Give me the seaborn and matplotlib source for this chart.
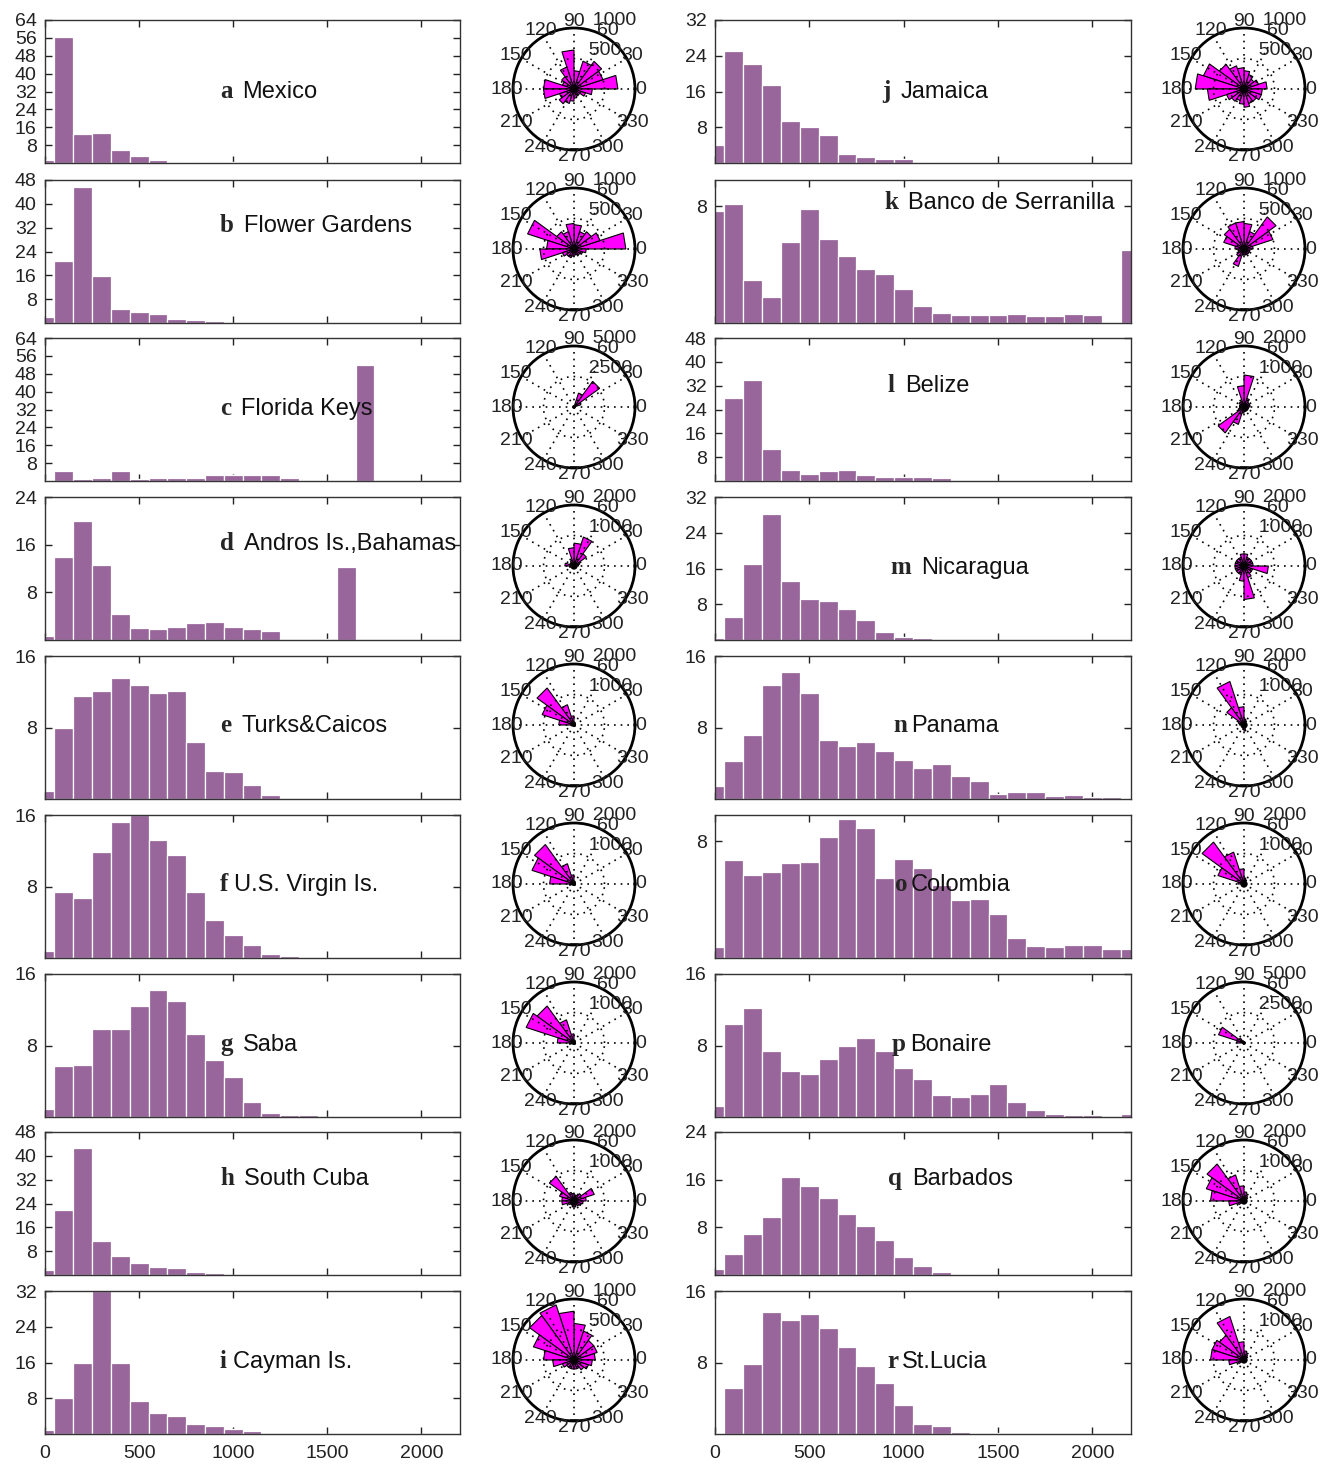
import numpy as np
import pandas as pd
import matplotlib
matplotlib.use("Agg")
import matplotlib.pyplot as plt
import seaborn as sns

sns.set_style("ticks")
plt.rcParams['font.family'] = ['Liberation Sans', 'DejaVu Sans']

# histogram bins (centres 0..2200, width 100)
centers = np.arange(0, 2300, 100)
edges = list(np.arange(-50, 2300, 100))
NB = len(centers)


def pad(v):
    return list(v) + [0] * (NB - len(v))


# ---- histogram counts ----
mexico = pad([1.2, 56.2, 12.8, 13.6, 5.9, 3.0, 1.2, 0.6, 0.6, 0, 0.6])
flower = pad([1.9, 20.7, 45.5, 15.7, 4.7, 3.7, 2.9, 1.5, 1.1, 0.55])
florida = pad([0.4, 4.5, 0.8, 1.4, 4.5, 0.8, 1.4, 1.4, 1.4, 2.7, 2.7, 2.7, 2.7, 1.4, 0, 0, 0, 52, 0.3])
andros = pad([0.65, 13.9, 20.0, 12.6, 4.4, 2.0, 1.8, 2.25, 2.9, 3.1, 2.25, 1.8, 1.55, 0, 0, 0.25, 12.2])
turks = pad([0.9, 7.9, 11.5, 12.1, 13.5, 12.7, 11.9, 12.1, 6.4, 3.1, 3.0, 1.6, 0.4, 0.1])
usvi = pad([0.76, 7.4, 6.7, 11.9, 15.2, 16.0, 13.2, 11.5, 7.4, 4.2, 2.55, 1.5, 0.5, 0.23])
saba = pad([0.9, 5.7, 5.8, 9.9, 9.9, 12.4, 14.2, 13.0, 9.3, 6.4, 4.5, 1.7, 0.5, 0.23, 0.23])
scuba = pad([1.8, 21.7, 42.7, 11.5, 6.3, 4.1, 2.7, 2.3, 1.0, 0.6])
cayman = pad([0.8, 8.1, 15.9, 32.0, 15.9, 7.4, 4.8, 4.1, 2.3, 1.7, 1.1, 0.7, 0.23, 0, 0.15])
jamaica = pad([4.1, 25.0, 22.2, 17.5, 9.4, 8.0, 6.2, 2.0, 1.4, 0.8, 0.8, 0.25])
banco = pad([7.66, 8.18, 2.97, 1.78, 5.53, 7.82, 5.78, 4.62, 3.73, 3.36, 2.33, 1.17, 0.71, 0.53,
             0.53, 0.53, 0.64, 0.46, 0.46, 0.64, 0.55, 0.09, 4.98])
belize = pad([0.4, 28.0, 33.8, 10.7, 3.7, 2.5, 3.3, 3.7, 1.9, 1.4, 1.4, 1.4, 1.0,
              0, 0, 0, 0, 0, 0, 0, 0, 0, 0.4])
nicaragua = pad([0.4, 5.2, 17.0, 28.1, 13.1, 9.1, 8.8, 7.0, 4.5, 1.8, 0.6, 0.4])
panama = pad([1.4, 4.3, 7.2, 12.8, 14.2, 11.9, 6.55, 5.9, 6.4, 5.4, 4.4, 3.45, 3.9, 2.55,
              2.0, 0.6, 0.75, 0.75, 0.35, 0.5, 0.2, 0.2, 0])
colombia = pad([0.78, 6.7, 5.7, 5.9, 6.5, 6.6, 8.3, 9.5, 8.9, 5.5, 6.8, 6.2, 5.0, 3.95,
                4.05, 3.03, 1.37, 0.85, 0.75, 0.91, 0.91, 0.64, 0.64])
bonaire = pad([1.26, 10.4, 12.2, 7.4, 5.2, 4.8, 6.5, 7.9, 8.8, 7.4, 5.5, 4.2, 2.5, 2.25,
               2.6, 3.65, 1.7, 0.77, 0.35, 0.2, 0.2, 0.07, 0.35])
barbados = pad([1.0, 3.5, 6.8, 9.7, 16.5, 15.0, 13.0, 10.3, 8.2, 5.8, 3.1, 1.45, 0.5, 0.2])
stlucia = pad([0.08, 5.2, 7.85, 13.6, 12.8, 13.4, 11.9, 9.7, 7.6, 5.76, 3.25, 1.12, 0.85, 0.23, 0, 0.12])

# ---- rose petals: 20 sectors of 18 deg, counter-clockwise from east ----
rose_mexico = [720, 500, 560, 480, 300, 640, 380, 250, 200, 500, 500, 250, 300, 250, 200, 150, 100, 120, 200, 300]
rose_flower = [850, 450, 350, 300, 400, 420, 300, 350, 800, 450, 560, 200, 150, 150, 120, 100, 100, 120, 150, 200]
rose_florida = [100, 600, 2600, 1200, 100, 50, 50, 50, 50, 50, 50, 50, 50, 50, 50, 50, 50, 50, 50, 50]
rose_andros = [150, 200, 500, 1000, 750, 600, 200, 150, 150, 300, 150, 100, 100, 100, 100, 100, 100, 100, 100, 100]
rose_turks = [50, 50, 50, 80, 100, 300, 700, 1500, 1100, 500, 100, 50, 50, 50, 50, 50, 50, 50, 50, 50]
rose_usvi = [50, 50, 50, 80, 100, 300, 700, 1600, 1450, 800, 150, 50, 50, 50, 50, 50, 50, 50, 50, 50]
rose_saba = [50, 50, 50, 80, 100, 300, 800, 1500, 1650, 550, 150, 50, 50, 50, 50, 50, 50, 50, 50, 50]
rose_scuba = [400, 700, 300, 200, 200, 250, 300, 1000, 500, 400, 400, 200, 150, 150, 200, 200, 150, 200, 250, 300]
rose_cayman = [350, 400, 400, 500, 600, 800, 950, 900, 700, 500, 350, 200, 150, 150, 150, 150, 150, 200, 250, 300]
rose_jamaica = [380, 250, 200, 250, 300, 350, 400, 500, 700, 800, 600, 300, 250, 200, 250, 300, 250, 250, 300, 300]
rose_banco = [150, 500, 650, 300, 420, 450, 450, 400, 350, 150, 100, 100, 150, 300, 100, 100, 100, 100, 100, 100]
rose_belize = [200, 200, 200, 300, 1050, 700, 200, 200, 150, 150, 150, 200, 1050, 600, 200, 150, 150, 150, 150, 150]
rose_nicaragua = [300, 300, 300, 300, 400, 400, 300, 300, 300, 300, 300, 300, 300, 300, 500, 1100, 400, 300, 300, 800]
rose_panama = [100, 100, 100, 150, 200, 600, 1500, 700, 200, 150, 100, 100, 100, 100, 150, 200, 100, 100, 100, 100]
rose_colombia = [100, 100, 100, 150, 200, 500, 1100, 1700, 900, 200, 100, 100, 100, 100, 100, 100, 100, 100, 100, 100]
rose_bonaire = [50, 50, 50, 50, 100, 100, 200, 500, 2200, 600, 100, 50, 50, 50, 50, 50, 50, 50, 50, 50]
rose_barbados = [100, 100, 150, 200, 300, 500, 900, 1500, 1300, 1100, 500, 200, 100, 100, 100, 100, 100, 100, 100, 100]
rose_stlucia = [100, 100, 150, 200, 300, 600, 1500, 1000, 1100, 1100, 500, 200, 100, 100, 100, 100, 100, 100, 100, 100]

letters = list("abcdefghijklmnopqr")
names = ["Mexico", "Flower Gardens", "Florida Keys", "Andros Is.,Bahamas", "Turks&Caicos",
         "U.S. Virgin Is.", "Saba", "South Cuba", "Cayman Is.",
         "Jamaica", "Banco de Serranilla", "Belize", "Nicaragua", "Panama", "Colombia",
         "Bonaire", "Barbados", "St.Lucia"]
hists = [mexico, flower, florida, andros, turks, usvi, saba, scuba, cayman,
         jamaica, banco, belize, nicaragua, panama, colombia, bonaire, barbados, stlucia]
roses = [rose_mexico, rose_flower, rose_florida, rose_andros, rose_turks, rose_usvi, rose_saba,
         rose_scuba, rose_cayman, rose_jamaica, rose_banco, rose_belize, rose_nicaragua,
         rose_panama, rose_colombia, rose_bonaire, rose_barbados, rose_stlucia]
ymaxs = [64, 48, 64, 24, 16, 16, 16, 48, 32, 32, 9.8, 48, 32, 16, 9.8, 16, 24, 16]
rmaxs = [1000, 1000, 5000, 2000, 2000, 2000, 2000, 2000, 1000,
         1000, 1000, 2000, 2000, 2000, 2000, 5000, 2000, 2000]

# label placement (pixel x of letter, pixel y of text centre, within figure)
label_x = [220, 220, 220, 220, 220, 220, 220, 220, 220,
           882, 884, 888, 890, 893, 895, 892, 888, 887]
label_y = [91, 225, 408, 543, 725, 884, 1044, 1178, 1361,
           91, 202, 385, 567, 725, 884, 1044, 1178, 1361]
gaps = [10, 10, 10, 10, 10, 6, 10, 10, 6, 10, 10, 10, 10, 4, 3, 4, 10, 4]

bar_color = "#98669b"
W, H = 1328, 1464
row_tops = [20, 180, 338, 497, 656, 815, 974, 1132, 1291]
hist_h = 143
hist_cols = [(45, 415), (715, 416)]
rose_cx = [574, 1244]
R = 61

fig = plt.figure(figsize=(W / 100, H / 100), dpi=100)
renderer = fig.canvas.get_renderer()

for i in range(18):
    col, row = divmod(i, 9)
    top = row_tops[row]
    x0, w = hist_cols[col]

    # histogram panel
    ax = fig.add_axes([x0 / W, 1 - (top + hist_h) / H, w / W, hist_h / H])
    df = pd.DataFrame({"depth": centers, "count": hists[i]})
    sns.histplot(data=df, x="depth", weights="count", bins=edges, ax=ax, color=bar_color,
                 edgecolor="white", linewidth=0.9, alpha=1)
    ax.set_xlim(0, 2205)
    ax.set_ylim(0, ymaxs[i])
    ax.set_xticks([0, 500, 1000, 1500, 2000])
    ax.set_yticks(np.arange(8, ymaxs[i] + 0.1, 8))
    ax.set_xlabel("")
    ax.set_ylabel("")
    ax.tick_params(direction="in", length=5, width=1, top=True, right=True,
                   labelsize=14, colors="#222222")
    ax.tick_params(axis="x", pad=8)
    ax.tick_params(axis="y", pad=6)
    if row != 8:
        ax.set_xticklabels([])
    for s in ax.spines.values():
        s.set_linewidth(1.0)
        s.set_color("#333333")

    # panel label: bold serif letter + sans name
    yb = (top + hist_h - (label_y[i] + 7)) / hist_h
    xl = (label_x[i] - x0) / w
    t = ax.text(xl, yb, letters[i], transform=ax.transAxes, fontsize=18,
                family=["Liberation Serif", "DejaVu Serif"], fontweight="bold", va="baseline")
    bb = t.get_window_extent(renderer)
    xn = ax.transAxes.inverted().transform((bb.x1 + gaps[i], 0))[0]
    ax.text(xn, yb, names[i], transform=ax.transAxes, fontsize=17, va="baseline", color="#111111")

    # rose panel
    cx = rose_cx[col]
    cy = top + 69
    pax = fig.add_axes([(cx - R) / W, 1 - (cy + R) / H, 2 * R / W, 2 * R / H], projection="polar")
    rmax = rmaxs[i]
    pax.set_ylim(0, rmax)
    pax.set_xticks([])
    pax.set_yticks([])
    pax.grid(False)
    pax.spines["polar"].set_linewidth(2)
    pax.spines["polar"].set_color("black")
    step = np.deg2rad(18)
    for k, r in enumerate(roses[i]):
        th1, th2 = k * step, (k + 1) * step
        pax.fill([0, th1, th2, 0], [0, r, r, 0], facecolor="#ff00ff",
                 edgecolor="black", linewidth=0.8, zorder=2)
    # dotted grid on top
    for a in range(0, 360, 30):
        pax.plot([np.deg2rad(a), np.deg2rad(a)], [0, rmax], color="black",
                 linestyle=(0, (1, 3)), linewidth=1.2, zorder=3)
    ring = np.linspace(0, 2 * np.pi, 200)
    pax.plot(ring, np.full_like(ring, rmax / 2), color="black",
             linestyle=(0, (1, 3)), linewidth=1.2, zorder=3)
    # angle labels
    for a in range(0, 360, 30):
        pax.text(np.deg2rad(a), rmax * 1.1, str(a), ha="center", va="center",
                 fontsize=14, color="#222222", clip_on=False, zorder=5)
    # radial labels
    for rv in (rmax // 2, rmax):
        pax.text(np.deg2rad(82), rv, "  " + str(rv), ha="left", va="bottom",
                 fontsize=14, color="#222222", clip_on=False, zorder=5)

fig.savefig("out.png", dpi=100, facecolor="white")
